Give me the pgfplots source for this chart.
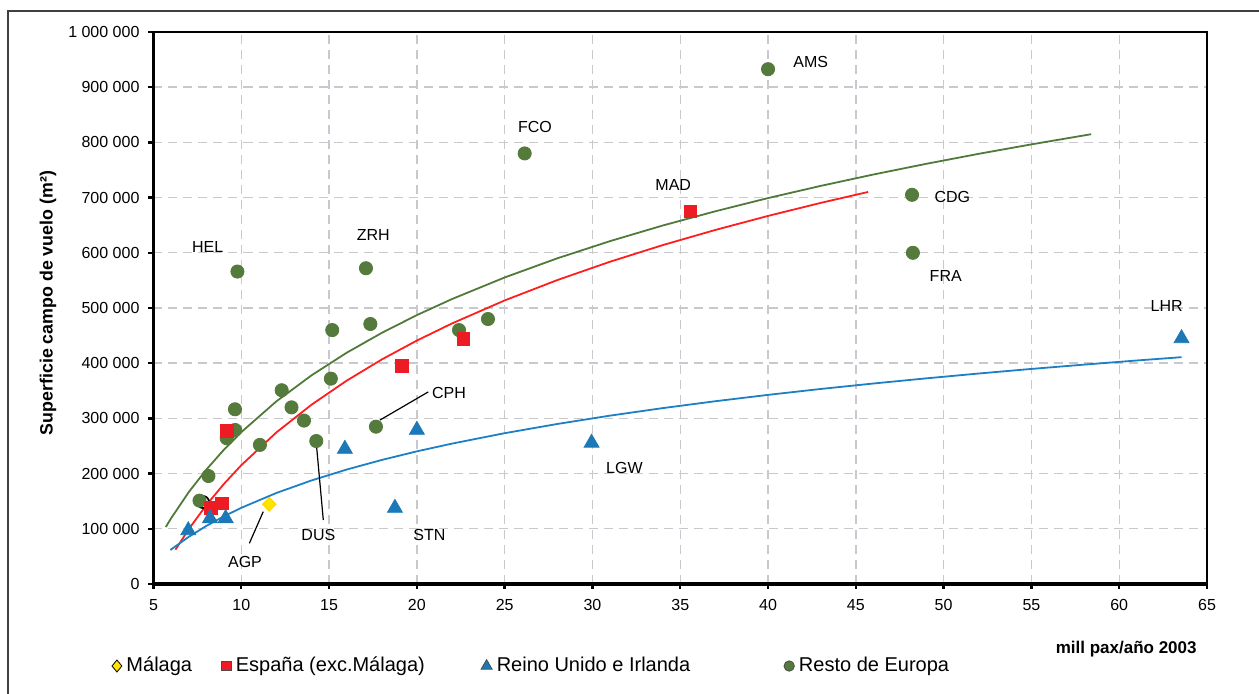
\documentclass[border=0pt]{standalone}
\usepackage{fontspec}
\setmainfont{Liberation Sans}
\usepackage{pgfplots}
\pgfplotsset{compat=1.18}
\definecolor{cgreen}{RGB}{84,122,60}
\definecolor{cgreenl}{RGB}{80,122,58}
\definecolor{cred}{RGB}{237,28,36}
\definecolor{credl}{RGB}{255,30,30}
\definecolor{cblue}{RGB}{28,120,182}
\definecolor{cbluel}{RGB}{30,128,196}
\definecolor{cyellow}{RGB}{255,228,0}
\definecolor{cgrid}{RGB}{200,200,206}
\begin{document}
\begin{tikzpicture}
\useasboundingbox (-76.75pt,-55pt) rectangle (552.75pt,292pt);
\draw[line width=0.8pt, black!75] (-72.75pt,-60pt) -- (-72.75pt,286.5pt) -- (560pt,286.5pt);
\begin{axis}[
  at={(0pt,0pt)}, anchor=south west,
  scale only axis, width=526.75pt, height=276pt,
  xmin=5, xmax=65, ymin=0, ymax=1000000,
  xtick={5,10,15,20,25,30,35,40,45,50,55,60,65},
  ytick={0,100000,200000,300000,400000,500000,600000,700000,800000,900000,1000000},
  yticklabels={0,100 000,200 000,300 000,400 000,500 000,600 000,700 000,800 000,900 000,1 000 000},
  scaled y ticks=false,
  /pgf/number format/assume math mode=true,
  xtick pos=bottom, ytick pos=left,
  tick align=outside, major tick length=2.5pt,
  every tick/.style={black, line width=1.2pt},
  tick label style={font=\fontsize{8}{9.6}\selectfont},
  xticklabel style={yshift=-1.5pt},
  yticklabel style={xshift=-1pt},
  axis line style={line width=1pt},
  grid=major,
  major grid style={cgrid, line width=0.7pt, dash pattern=on 4.5pt off 3pt},
  clip=false,
  xlabel={\bfseries mill pax/año 2003},
  xlabel style={at={(axis description cs:0.9905,-0.1178)}, anchor=east, inner sep=0pt, font=\fontsize{8.5}{10}\selectfont},
  ylabel={\bfseries Superficie campo de vuelo (m²)},
  ylabel style={at={(axis description cs:-0.1,0.509)}, anchor=center, rotate=0, font=\fontsize{8.9}{10}\selectfont},
  legend columns=4,
  legend image code/.code={\draw[#1] plot coordinates {(0pt,0pt)};},
  legend style={at={(axis description cs:-0.0394,-0.1486)}, anchor=west, draw=none, fill=none,
    inner sep=0pt, outer sep=0pt, font=\fontsize{10}{11}\selectfont,
    nodes={inner xsep=2.3pt, inner ysep=1pt},
    /tikz/every even column/.append style={column sep=0pt}},
]
% legend images
\addlegendimage{only marks, mark=diamond*, mark size=3pt, mark options={fill=cyellow, draw=black, line width=0.4pt, xscale=1.1}}
\addlegendentry{\makebox[45.3pt][l]{Málaga}}
\addlegendimage{only marks, mark=square*, mark size=2.4pt, mark options={fill=cred, draw=black!70, line width=0.4pt}}
\addlegendentry{\makebox[120.3pt][l]{España (exc.Málaga)}}
\addlegendimage{only marks, mark=triangle*, mark size=3.2pt, mark options={fill=cblue, draw=black!70, line width=0.4pt}}
\addlegendentry{\makebox[141.3pt][l]{Reino Unido e Irlanda}}
\addlegendimage{only marks, mark=*, mark size=2.6pt, mark options={fill=cgreen, draw=black!70, line width=0.4pt}}
\addlegendentry{Resto de Europa}

% fitted curves
\addplot[cgreenl, line width=0.9pt, forget plot] coordinates {
(5.7,103200) (6,118900) (7,166100) (8,206900) (9,242900) (10,275100) (12,330900)
(14,378000) (16,418900) (18,454900) (20,487100) (22,516200) (25,555300) (28,590000)
(31,621100) (34,649400) (37,675200) (40,699100) (43,721200) (46,741800) (49,761100)
(52,779300) (55,796400) (58.4,814800)};
\addplot[credl, line width=0.9pt, forget plot] coordinates {
(6.25,62100) (7,99000) (8,142500) (9,180900) (10,215200) (12,274600) (14,324800)
(16,368300) (18,406700) (20,441000) (22,472000) (25,513700) (28,550600) (31,583800)
(34,613900) (37,641400) (40,666800) (43,690400) (45.7,710200)};
\addplot[cbluel, line width=0.9pt, forget plot] coordinates {
(5.96,61600) (7,85300) (8,105000) (9,122400) (10,138000) (12,164900) (14,187600)
(16,207300) (18,224700) (20,240300) (22,254300) (25,273200) (28,289900) (31,305000)
(34,318600) (37,331100) (40,342600) (43,353300) (46,363200) (49,372500) (52,381300)
(55,389600) (58,397400) (61,404900) (63.55,410900)};

% black outline artefact
\addplot[only marks, mark=o, mark size=3pt, mark options={draw=black, line width=0.9pt}, forget plot] coordinates {(7.82,148500)};

% Resto de Europa
\addplot[only marks, mark=*, mark size=3.3pt, mark options={fill=cgreen, draw=cgreen}, forget plot] coordinates {
(9.64,316500) (12.3,351000) (15.1,372000) (12.86,320000) (13.57,296000) (9.65,279000)
(9.17,264000) (11.06,252000) (14.27,259000) (17.67,285000) (8.13,195600) (7.62,151000)
(9.78,566000) (17.1,572000) (15.18,460000) (17.35,471000) (22.4,460000) (24.05,480000)
(26.14,780000) (40.0,932600) (48.2,705000) (48.25,600000)};

% España
\addplot[only marks, mark=square*, mark size=3.2pt, mark options={fill=cred, draw=cred}, forget plot] coordinates {
(9.2,278000) (8.26,138000) (8.88,146000) (19.14,395000) (22.65,444000) (35.58,675000)};

% Reino Unido
\addplot[only marks, mark=triangle*, mark size=4.3pt, mark options={fill=cblue, draw=cblue}, forget plot] coordinates {
(6.98,97000) (8.22,119000) (9.11,119000) (15.9,244600) (20.0,279000) (18.75,137700)
(29.95,255600) (63.55,445000)};

% Malaga
\addplot[only marks, mark=diamond*, mark size=3.4pt, mark options={fill=cyellow, draw=cyellow!85!orange, line width=0.5pt, xscale=1.3}, forget plot] coordinates {(11.59,144400)};

% leader lines
\draw[black, line width=0.6pt] (axis cs:10.46,73700) -- (axis cs:11.25,131000);
\draw[black, line width=0.6pt] (axis cs:14.29,248700) -- (axis cs:14.67,115900);
\draw[black, line width=0.6pt] (axis cs:17.9,297000) -- (axis cs:20.65,348000);

% labels
\begin{scope}[every node/.style={font=\fontsize{8}{9.6}\selectfont, inner sep=0pt}]
\node at (axis cs:10.21,40400) {AGP};
\node at (axis cs:14.39,88800) {DUS};
\node at (axis cs:20.71,88800) {STN};
\node at (axis cs:21.83,346600) {CPH};
\node at (axis cs:8.09,610000) {HEL};
\node at (axis cs:17.52,632000) {ZRH};
\node at (axis cs:26.73,827000) {FCO};
\node at (axis cs:34.6,723000) {MAD};
\node at (axis cs:42.43,946000) {AMS};
\node at (axis cs:50.5,701000) {CDG};
\node at (axis cs:50.12,557600) {FRA};
\node at (axis cs:62.7,503000) {LHR};
\node at (axis cs:31.82,211000) {LGW};
\end{scope}

\draw[line width=1.6pt, black] (rel axis cs:0,1) -- (rel axis cs:0,0) -- (rel axis cs:1,0);
\end{axis}
\end{tikzpicture}
\end{document}
